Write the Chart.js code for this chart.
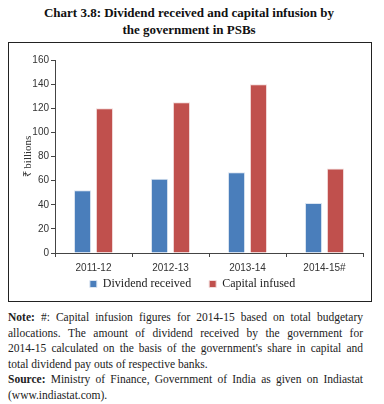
<!DOCTYPE html>
<html>
<head>
<meta charset="utf-8">
<script src="https://cdn.jsdelivr.net/npm/chart.js@4.4.0/dist/chart.umd.min.js"></script>
<style>
  body { margin: 0; background: #fff; width: 384px; height: 404px; position: relative; overflow: hidden; }
  .title { position: absolute; left: 0; top: 4px; width: 378px; text-align: center;
           font-family: "Liberation Serif", serif; font-weight: bold; font-size: 13px; line-height: 17px; color: #111; }
  .box { position: absolute; left: 8px; top: 42px; width: 362px; height: 258px; border: 1.5px solid #222; }
  .notes { position: absolute; left: 8px; top: 310px; width: 355px;
           font-family: "Liberation Serif", serif; font-size: 11.5px; line-height: 15.6px; color: #222; }
  .notes div { text-align: justify; text-align-last: justify; white-space: nowrap; }
  .notes div.last { text-align-last: left; }
</style>
</head>
<body>
<div class="title">Chart 3.8: Dividend received and capital infusion by<br>the government in PSBs</div>
<div class="box"><canvas id="dividendChart"></canvas></div>
<div class="notes">
  <div><b>Note:</b> #: Capital infusion figures for 2014-15 based on total budgetary</div>
  <div>allocations. The amount of dividend received by the government for</div>
  <div>2014-15 calculated on the basis of the government's share in capital and</div>
  <div class="last">total dividend pay outs of respective banks.</div>
  <div><b>Source:</b> Ministry of Finance, Government of India as given on Indiastat</div>
  <div class="last">(www.indiastat.com).</div>
</div>
<script>
// Chart 3.8 - dividend vs capital infusion (₹ billions)
const years = ['2011-12', '2012-13', '2013-14', '2014-15#'];
const dividendReceived = [52, 61.5, 67, 41.5];
const capitalInfused = [120, 125, 140, 70];
const yTicks = [0, 20, 40, 60, 80, 100, 120, 140, 160];

// legend padding also sets the gap between items, so pull the legend back up after layout
const legendLift = {
    id: 'legendLift',
    afterLayout: function(chart) {
        if (!chart.legend) return;
        chart.legend.top -= 19;
        chart.legend.bottom -= 19;
    }
};

document.addEventListener('DOMContentLoaded', function() {
    Chart.defaults.font.family = '"Liberation Sans", sans-serif';
    Chart.defaults.color = '#333';

    const ctx = document.getElementById('dividendChart');
    new Chart(ctx, {
        type: 'bar',
        data: {
            labels: years,
            datasets: [{
                label: 'Dividend received',
                data: dividendReceived,
                backgroundColor: '#4a7ebb',
                borderColor: '#dbe5f1',
                borderWidth: 1,
                categoryPercentage: 0.57,
                barPercentage: 0.78
            }, {
                label: 'Capital infused',
                data: capitalInfused,
                backgroundColor: '#c0504d',
                borderColor: '#f2dcdb',
                borderWidth: 1,
                categoryPercentage: 0.57,
                barPercentage: 0.78
            }]
        },
        plugins: [legendLift],
        options: {
            responsive: true,
            maintainAspectRatio: false,
            animation: false,
            layout: { padding: { top: 17, right: 8, left: 13, bottom: -18 } },
            plugins: {
                tooltip: { enabled: false },
                legend: {
                    position: 'bottom',
                    labels: {
                        boxWidth: 7,
                        boxHeight: 7,
                        padding: 18,
                        color: '#222',
                        font: { family: '"Liberation Serif", serif', size: 12 }
                    }
                }
            },
            scales: {
                x: {
                    grid: { display: true, drawOnChartArea: false, tickLength: 4, color: '#444' },
                    border: { color: '#444', width: 1 },
                    ticks: { font: { size: 10 }, padding: 5, maxRotation: 0 }
                },
                y: {
                    min: 0,
                    max: 160,
                    afterBuildTicks: function(axis) {
                        axis.ticks = yTicks.map(function(v) { return { value: v }; });
                    },
                    afterFit: function(axis) { axis.width = 33; },
                    grid: { display: true, drawOnChartArea: false, tickLength: 4, color: '#444' },
                    border: { color: '#444', width: 1 },
                    ticks: { font: { size: 10 }, padding: 2 },
                    title: {
                        display: true,
                        text: '₹ billions',
                        font: { family: '"Liberation Serif", serif', size: 11 },
                        padding: 0
                    }
                }
            }
        }
    });
});
</script>
</body>
</html>
